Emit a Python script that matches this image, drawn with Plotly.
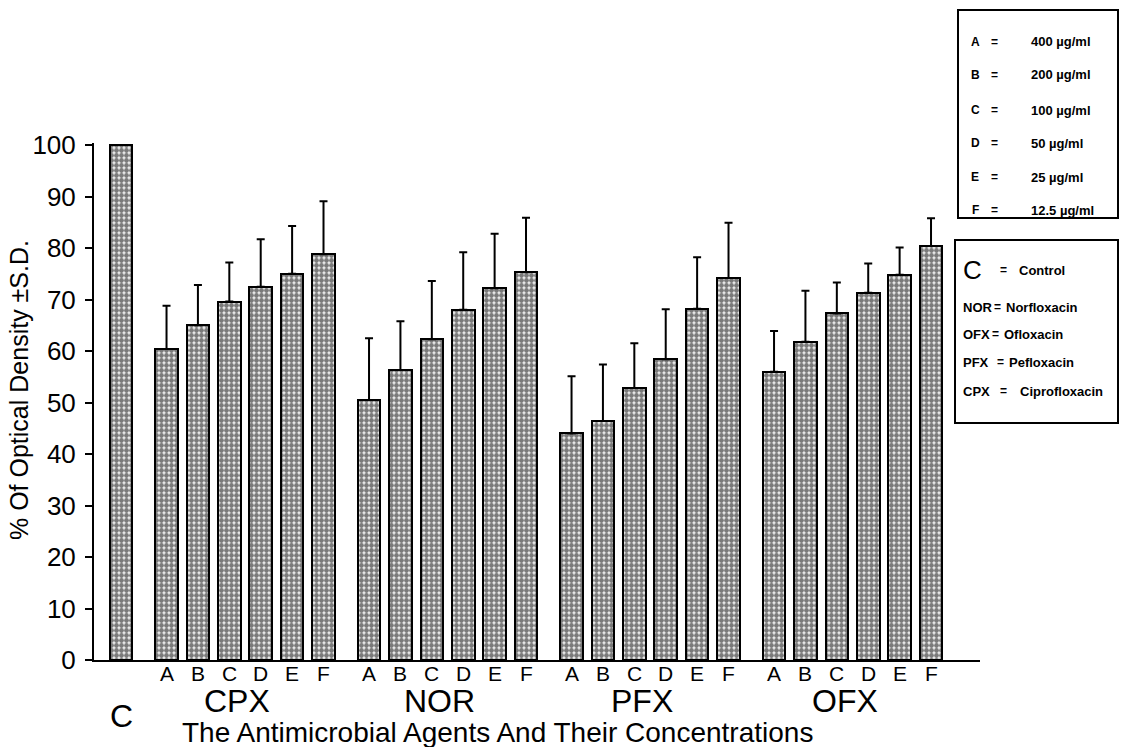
import plotly.graph_objects as go

# ---------------- data ----------------
groups = ["CPX", "NOR", "PFX", "OFX"]
concs = ["A", "B", "C", "D", "E", "F"]
control_label = "C"
control_value = 100.0

cpx_vals = [60.4, 65.0, 69.6, 72.5, 75.0, 78.8]
cpx_err = [8.4, 7.8, 7.6, 9.2, 9.3, 10.3]
nor_vals = [50.5, 56.3, 62.3, 68.0, 72.2, 75.3]
nor_err = [12.0, 9.5, 11.3, 11.2, 10.6, 10.6]
pfx_vals = [44.0, 46.4, 52.8, 58.4, 68.2, 74.2]
pfx_err = [11.1, 11.0, 8.7, 9.7, 10.0, 10.7]
ofx_vals = [56.0, 61.8, 67.3, 71.3, 74.8, 80.4]
ofx_err = [7.9, 9.9, 6.0, 5.7, 5.3, 5.4]

y_ticks = [0, 10, 20, 30, 40, 50, 60, 70, 80, 90, 100]

conc_legend = [("A", "400 µg/ml"), ("B", "200 µg/ml"), ("C", "100 µg/ml"),
               ("D", "50 µg/ml"), ("E", "25 µg/ml"), ("F", "12.5 µg/ml")]
agent_legend = [("C", "Control"), ("NOR", "Norfloxacin"), ("OFX", "Ofloxacin"),
                ("PFX", "Pefloxacin"), ("CPX", "Ciprofloxacin")]

x_title = "The Antimicrobial Agents And Their Concentrations"
y_title = "% Of Optical Density ±S.D."

# ---------------- layout helpers ----------------
W, H = 1124, 747
ML, MR, MT, MB = 94, 144, 143, 87
PW, PH = W - ML - MR, H - MT - MB
GAP = 1.45


def px(xp):
    return (xp - ML) / PW


def py(yp):
    return (H - MB - yp) / PH


series = [cpx_vals, nor_vals, pfx_vals, ofx_vals]
errs = [cpx_err, nor_err, pfx_err, ofx_err]

xs, ys, es = [], [], []
group_centers = []
for g, (vals, err) in enumerate(zip(series, errs)):
    start = GAP + g * (len(concs) - 1 + GAP)
    pos = [start + i for i in range(len(concs))]
    group_centers.append(sum(pos) / len(pos))
    xs += pos
    ys += vals
    es += err

pattern = dict(shape=".", fgcolor="black", bgcolor="#f4f4f4", size=5, solidity=0.72)
bar_marker = dict(color="white", pattern=pattern, line=dict(color="black", width=2))

fig = go.Figure()
fig.add_trace(go.Bar(x=[0], y=[control_value], width=0.72, marker=bar_marker, showlegend=False))
fig.add_trace(go.Bar(
    x=xs, y=ys, width=0.72, marker=bar_marker,
    error_y=dict(type="data", array=es, arrayminus=[0] * len(es), symmetric=False,
                 color="black", thickness=2, width=4),
    showlegend=False,
))

annotations = []
font_main = "Liberation Sans, Arial, sans-serif"


def add_text(x, y, text, size, xanchor="center", **kw):
    annotations.append(dict(x=px(x), y=py(y), xref="paper", yref="paper", text=text, showarrow=False,
                            xanchor=xanchor, yanchor="middle",
                            font=dict(family=font_main, size=size, color="black"), **kw))


# concentration letters under bars
for xv, lab in zip(xs, concs * len(groups)):
    annotations.append(dict(x=xv, y=0, xref="x", yref="y", text=lab, showarrow=False,
                            yanchor="top", yshift=0, font=dict(family=font_main, size=21, color="black")))
# group labels
for c, gname in zip(group_centers, groups):
    annotations.append(dict(x=c - 0.25, y=0, xref="x", yref="y", text=gname, showarrow=False,
                            yanchor="top", yshift=-21, font=dict(family=font_main, size=32, color="black")))
annotations.append(dict(x=0, y=0, xref="x", yref="y", text=control_label, showarrow=False,
                        yanchor="top", yshift=-36, font=dict(family=font_main, size=32, color="black")))
# axis titles
add_text(497, 732, x_title, 28)
add_text(19, 390, y_title, 25, textangle=-90)

shapes = []
# legend box 1 (concentrations)
shapes.append(dict(type="rect", xref="paper", yref="paper", x0=px(958), x1=px(1118), y0=py(218), y1=py(10),
                   line=dict(color="black", width=2), fillcolor="white"))
row_y = [42, 75, 110, 143, 177, 210]
for (k, v), ry in zip(conc_legend, row_y):
    add_text(975, ry, f"<b>{k}</b>", 12)
    add_text(994, ry, "<b>=</b>", 12)
    add_text(1029, ry, f"<b>{v}</b>", 13, xanchor="left")

# legend box 2 (agents)
shapes.append(dict(type="rect", xref="paper", yref="paper", x0=px(955), x1=px(1118), y0=py(423), y1=py(240),
                   line=dict(color="black", width=2), fillcolor="white"))
row_y2 = [270, 307, 334, 362, 391]
eq_x = [1003, 998, 995, 1000, 1003]
name_x = [1017, 1004, 1002, 1007, 1018]
for idx, ((k, v), ry, ex, nx) in enumerate(zip(agent_legend, row_y2, eq_x, name_x)):
    if idx == 0:
        add_text(961, ry, k, 26, xanchor="left")
    else:
        add_text(961, ry, f"<b>{k}</b>", 13, xanchor="left")
    add_text(ex, ry, "<b>=</b>", 12)
    add_text(nx, ry, f"<b>{v}</b>", 13, xanchor="left")

fig.update_layout(
    width=W, height=H,
    margin=dict(l=ML, r=MR, t=MT, b=MB, pad=0),
    paper_bgcolor="white", plot_bgcolor="white",
    bargap=0,
    xaxis=dict(range=[-0.86, 27.36], showticklabels=False, ticks="", showgrid=False, zeroline=False,
               showline=True, linecolor="black", linewidth=2),
    yaxis=dict(range=[0, 100.4], tickvals=y_ticks, ticks="outside", ticklen=7, tickwidth=2, tickcolor="black",
               showgrid=False, zeroline=False, showline=True, linecolor="black", linewidth=2,
               tickfont=dict(family=font_main, size=26, color="black"), ticklabelstandoff=4),
    annotations=annotations,
    shapes=shapes,
    font=dict(family=font_main, color="black"),
)

fig.write_html("out.html", config={"displayModeBar": False},
               post_script="document.body.style.margin='0';document.body.style.overflow='hidden';")
